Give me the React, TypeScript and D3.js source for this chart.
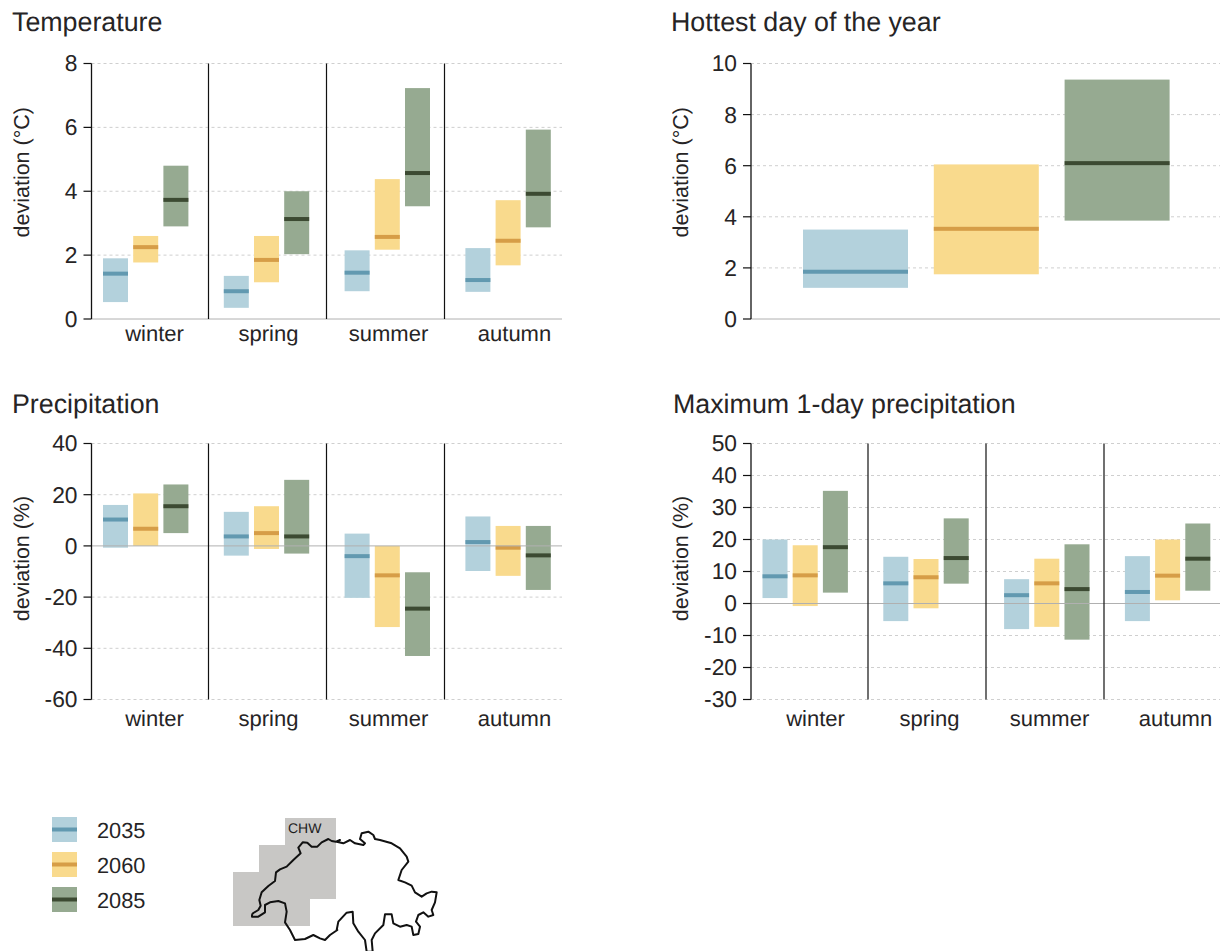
import React from "react";
import * as d3 from "d3";

const seasons = ["winter", "spring", "summer", "autumn"];
const years = ["2035", "2060", "2085"];
const boxColors = ["#b3d1dc", "#f9da8d", "#96aa91"];
const lineColors = ["#6299b0", "#d69d47", "#3c4a32"];
const inkColor = "#262425";

// each list holds 2035, 2060, 2085, season after season
const tempLow = [0.53, 1.77, 2.9, 0.35, 1.15, 2.03, 0.87, 2.17, 3.53, 0.85, 1.68, 2.87];
const tempMid = [1.42, 2.25, 3.73, 0.87, 1.85, 3.13, 1.45, 2.57, 4.57, 1.22, 2.45, 3.92];
const tempHigh = [1.9, 2.6, 4.8, 1.35, 2.6, 4.0, 2.15, 4.38, 7.23, 2.22, 3.72, 5.93];
const tempTicks = [0, 2, 4, 6, 8];

const hotLow = [1.22, 1.75, 3.85];
const hotMid = [1.85, 3.53, 6.1];
const hotHigh = [3.5, 6.05, 9.37];
const hotTicks = [0, 2, 4, 6, 8, 10];

const precLow = [-0.7, 0, 5, -3.8, -1.2, -3, -20.3, -31.7, -43, -9.8, -11.7, -17.2];
const precMid = [10.3, 6.7, 15.5, 3.7, 5, 3.7, -4, -11.5, -24.5, 1.5, -0.7, -3.7];
const precHigh = [16, 20.5, 24, 13.3, 15.5, 25.8, 4.8, 0, -10.3, 11.5, 7.8, 7.8];
const precTicks = [-60, -40, -20, 0, 20, 40];

const maxLow = [1.7, -0.8, 3.4, -5.5, -1.5, 6.2, -8, -7.3, -11.3, -5.5, 1, 4];
const maxMid = [8.5, 8.8, 17.6, 6.3, 8.2, 14.2, 2.6, 6.3, 4.5, 3.6, 8.7, 14];
const maxHigh = [20, 18.2, 35.2, 14.6, 13.9, 26.6, 7.6, 14, 18.5, 14.8, 20, 25];
const maxTicks = [-30, -20, -10, 0, 10, 20, 30, 40, 50];

// map grid cells: [column, row]
const gridCells: [number, number][] = [
  [2, 0], [3, 0],
  [1, 1], [2, 1], [3, 1],
  [0, 2], [1, 2], [2, 2], [3, 2],
  [0, 3], [1, 3], [2, 3],
];

const outlineLeft: [number, number][] = [
  [66, 298], [70, 294], [85, 285], [92, 272], [88, 255], [95, 232], [115, 213], [135, 198], [138, 172],
  [150, 163], [170, 155], [190, 135], [212, 115], [205, 98], [218, 82], [232, 83], [245, 95], [262, 95],
  [275, 82], [295, 72], [305, 78], [318, 80], [330, 75],
];
const outlineRight: [number, number][] = [
  [20, 80], [40, 85], [60, 75], [75, 85], [100, 90], [105, 85], [90, 72], [95, 55], [115, 50], [130, 60],
  [135, 72], [150, 75], [185, 85], [210, 100], [230, 125], [235, 140], [215, 165], [205, 195], [225, 202],
  [245, 212], [255, 232], [275, 245], [290, 235], [305, 230], [320, 232], [315, 262], [305, 285], [310, 300],
  [295, 305], [280, 292], [265, 300], [258, 320], [270, 335], [265, 357], [250, 360], [245, 335], [230, 330],
  [210, 335], [190, 325], [185, 298], [165, 298], [160, 330], [135, 355], [125, 375], [128, 410], [110, 410],
  [105, 375], [85, 350], [70, 325], [68, 290], [50, 293], [25, 320], [20, 345],
];
const outlineBack: [number, number][] = [
  [322, 345], [300, 360], [285, 375], [270, 370], [250, 360], [225, 372], [195, 375], [180, 345], [165, 322],
  [170, 290], [165, 265], [145, 258], [120, 262], [105, 270], [105, 292], [85, 305], [66, 305], [66, 298],
];

const font = "'Liberation Sans', Arial, sans-serif";

type PanelProps = {
  title: string;
  titleX: number;
  titleY: number;
  left: number;
  right: number;
  top: number;
  bottom: number;
  domain: [number, number];
  ticks: number[];
  low: number[];
  mid: number[];
  high: number[];
  unit: string;
  seasonal: boolean;
  labelGap: number;
  labelNudge: number;
  unitShift: number;
};

function Panel(p: PanelProps) {
  const y = d3.scaleLinear().domain(p.domain).range([p.bottom, p.top]);
  const seasonStep = 118;
  const groupCount = p.seasonal ? 4 : 1;
  // slots: three bars then a gap, for each season
  const slotStep = p.seasonal ? 30.2 : 130.8;
  const barW = p.seasonal ? 25 : 105;
  const firstBar = p.left + (p.seasonal ? 11.5 : 52);
  const x = d3.scaleLinear().domain([0, 1]).range([firstBar, firstBar + slotStep]);
  const labelX = d3.scaleOrdinal<string, number>().domain(seasons).range([63, 177, 297, 423].map((d) => d + p.left + p.labelNudge));
  const sep = d3.scaleLinear().domain([0, 1]).range([p.left + 117, p.left + 117 + seasonStep]);
  const rows = d3.range(p.low.length);
  const midY = (p.top + p.bottom) / 2;
  return (
    <g fontFamily={font} fill={inkColor} textRendering="geometricPrecision">
      <text x={p.titleX} y={p.titleY} fontSize={26.8}>{p.title}</text>
      {p.ticks.map((t) => (
        <g key={t}>
          {t !== 0 && (
            <line x1={p.left} x2={p.right} y1={y(t)} y2={y(t)} stroke="#cfcfcf" strokeWidth={1} strokeDasharray="3 3" />
          )}
          <line x1={p.left - 8} x2={p.left} y1={y(t)} y2={y(t)} stroke="#111" strokeWidth={1.2} />
          <text x={p.left - 14} y={y(t)} dy="0.35em" textAnchor="end" fontSize={22.8}>{t}</text>
        </g>
      ))}
      {rows.map((i) => {
        const season = Math.floor(i / 3);
        const slot = p.seasonal ? season * 4 + (i % 3) : i;
        return (
          <g key={i}>
            <rect x={x(slot)} width={barW} y={y(p.high[i])} height={y(p.low[i]) - y(p.high[i])} fill={boxColors[i % 3]} />
            <rect x={x(slot)} width={barW} y={y(p.mid[i]) - 2} height={4} fill={lineColors[i % 3]} />
          </g>
        );
      })}
      <line x1={p.left} x2={p.right} y1={y(0)} y2={y(0)} stroke="#b0b0b0" strokeWidth={1} />
      {p.seasonal && d3.range(groupCount - 1).map((i) => (
        <line key={i} x1={sep(i)} x2={sep(i)} y1={p.top} y2={p.bottom} stroke="#111" strokeWidth={1.2} />
      ))}
      <line x1={p.left} x2={p.left} y1={p.top} y2={p.bottom} stroke="#111" strokeWidth={1.3} />
      {p.seasonal && seasons.map((s) => (
        <text key={s} x={labelX(s)} y={p.bottom + p.labelGap} textAnchor="middle" fontSize={22}>{s}</text>
      ))}
      <text
        transform={`translate(${p.left - 63},${midY + p.unitShift}) rotate(-90)`}
        textAnchor="middle"
        fontSize={21.5}
      >
        {`deviation (${p.unit})`}
      </text>
    </g>
  );
}

function Legend() {
  const rowY = d3.scaleLinear().domain([0, 1]).range([817, 852]);
  return (
    <g fontFamily={font} fill={inkColor} textRendering="geometricPrecision">
      {years.map((yr, i) => (
        <g key={yr}>
          <rect x={52} y={rowY(i)} width={25} height={25} fill={boxColors[i]} />
          <rect x={52} y={rowY(i) + 10.5} width={25} height={4} fill={lineColors[i]} />
          <text x={97} y={rowY(i) + 13.5} dy="0.35em" fontSize={21.8}>{yr}</text>
        </g>
      ))}
    </g>
  );
}

function MapInset() {
  const cx = d3.scaleLinear().domain([0, 1]).range([233.3, 258.9]);
  const cy = d3.scaleLinear().domain([0, 1]).range([818, 844.9]);
  const lx = d3.scaleLinear().domain([0, 3]).range([230, 231]);
  const ly = d3.scaleLinear().domain([0, 3]).range([815, 816]);
  const rx = d3.scaleLinear().domain([0, 3]).range([330, 331]);
  const pts: [number, number][] = [
    ...outlineLeft.map(([a, b]) => [lx(a), ly(b)] as [number, number]),
    ...outlineRight.map(([a, b]) => [rx(a), ly(b)] as [number, number]),
    ...outlineBack.map(([a, b]) => [lx(a), ly(b)] as [number, number]),
  ];
  const path = d3.line().curve(d3.curveLinear)(pts) ?? "";
  return (
    <g>
      {gridCells.map(([c, r]) => (
        <rect key={`${c}-${r}`} x={cx(c)} y={cy(r)} width={cx(1) - cx(0)} height={cy(1) - cy(0)} fill="#c8c7c5" shapeRendering="crispEdges" />
      ))}
      <text x={288} y={833} fontFamily={font} fontSize={14} fill="#1d1d1d" textRendering="geometricPrecision">CHW</text>
      <path d={path} fill="none" stroke="#111" strokeWidth={2} strokeLinejoin="round" />
    </g>
  );
}

export default function App() {
  return (
    <svg width={1220} height={951} style={{ position: "absolute", left: 0, top: 0, background: "#fff" }}>
      <Panel title="Temperature" titleX={12} titleY={31} left={91.5} right={562} top={63.5} bottom={319} domain={[0, 8]} ticks={tempTicks} low={tempLow} mid={tempMid} high={tempHigh} unit="°C" seasonal labelGap={22} labelNudge={0} unitShift={-19} />
      <Panel title="Hottest day of the year" titleX={671} titleY={31} left={751} right={1220} top={63.5} bottom={319} domain={[0, 10]} ticks={hotTicks} low={hotLow} mid={hotMid} high={hotHigh} unit="°C" seasonal={false} labelGap={22} labelNudge={0} unitShift={-19} />
      <Panel title="Precipitation" titleX={12} titleY={413} left={91.5} right={562} top={443.5} bottom={699.5} domain={[-60, 40]} ticks={precTicks} low={precLow} mid={precMid} high={precHigh} unit="%" seasonal labelGap={26.5} labelNudge={0} unitShift={-13} />
      <Panel title="Maximum 1-day precipitation" titleX={673} titleY={413} left={751} right={1220} top={443.5} bottom={699.5} domain={[-30, 50]} ticks={maxTicks} low={maxLow} mid={maxMid} high={maxHigh} unit="%" seasonal labelGap={26.5} labelNudge={1.5} unitShift={-13} />
      <Legend />
      <MapInset />
    </svg>
  );
}
